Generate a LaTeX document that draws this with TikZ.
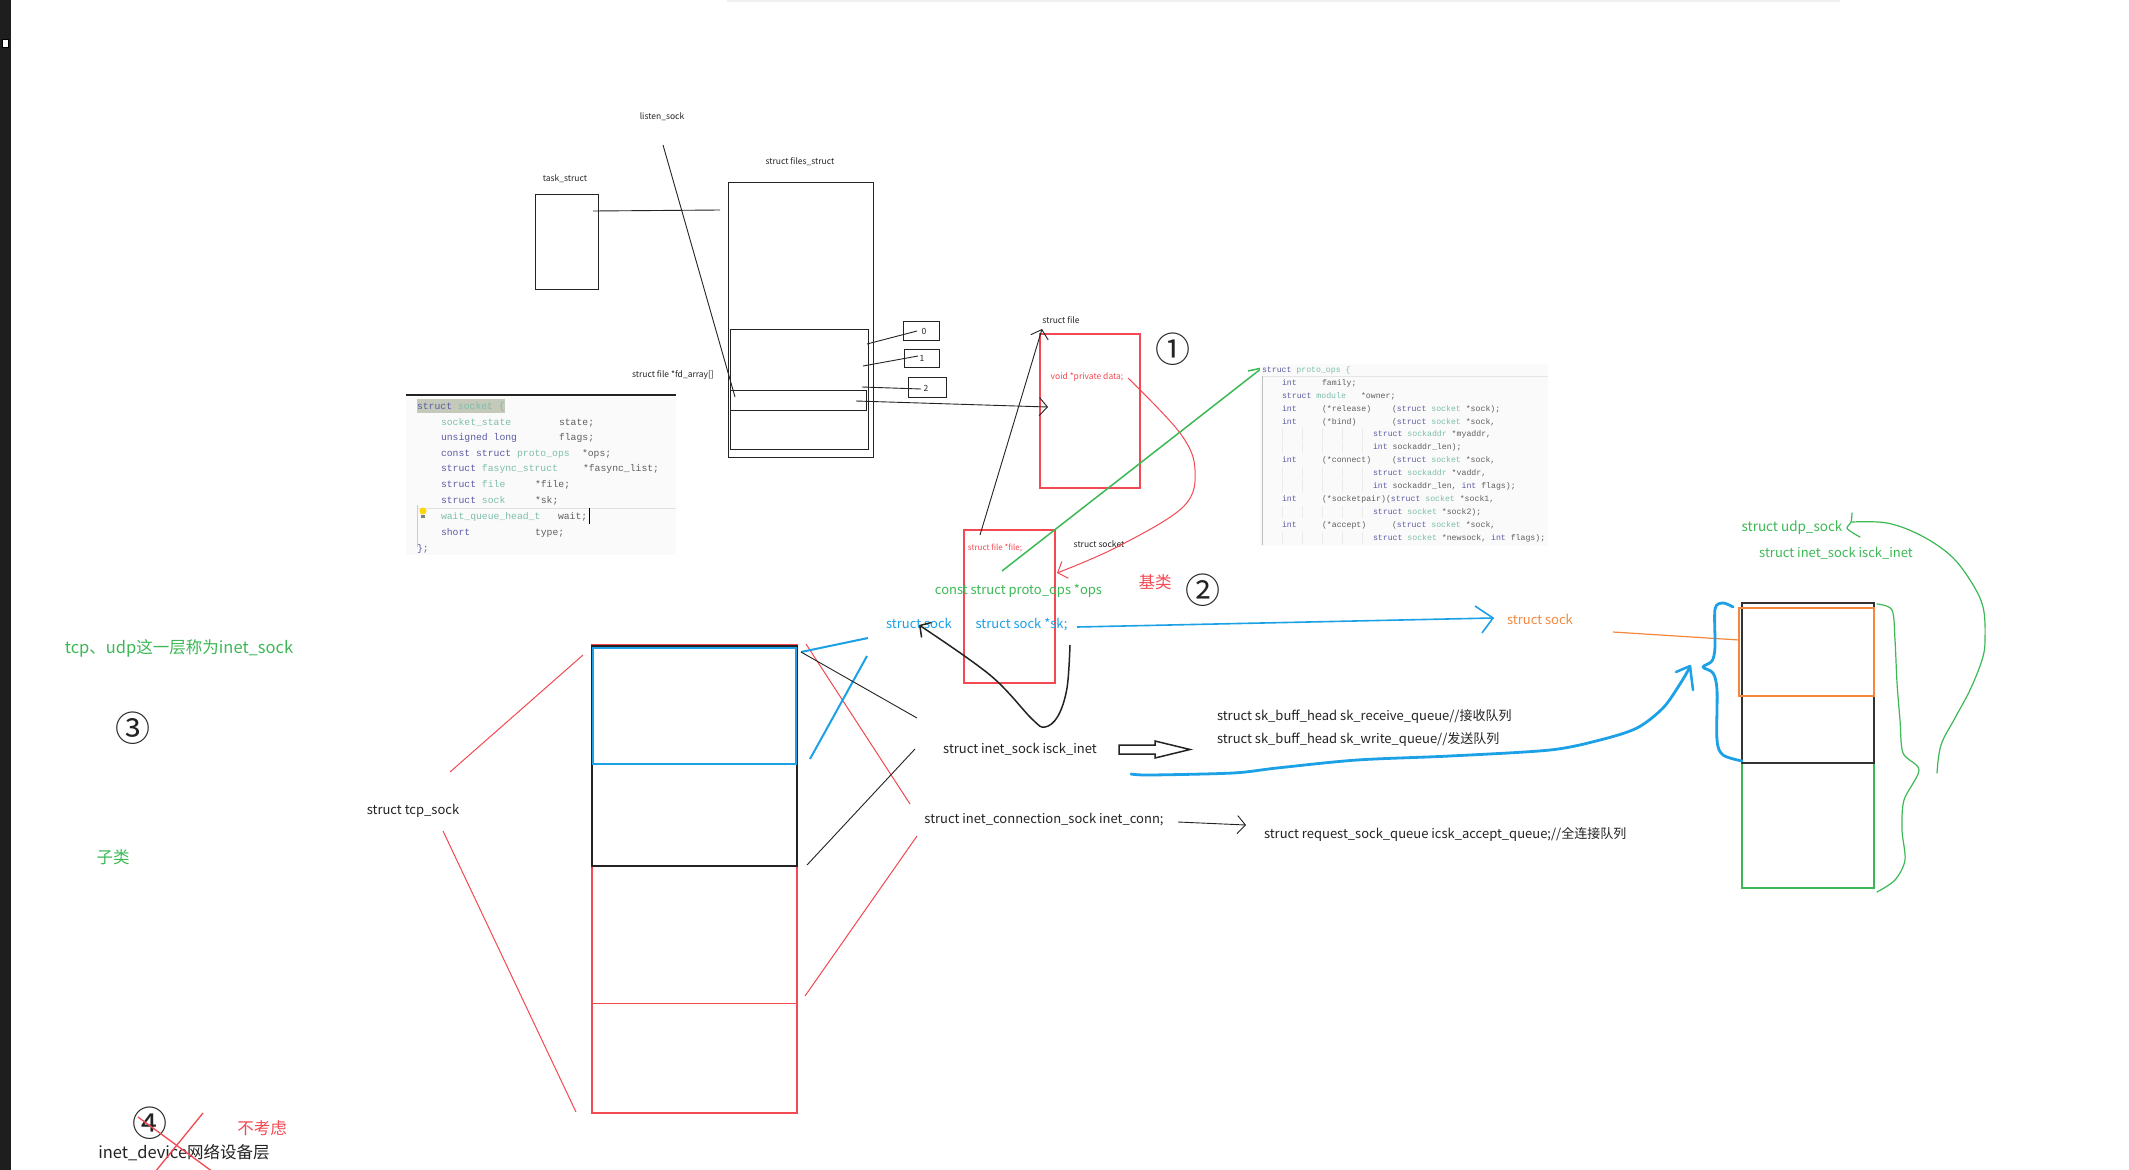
\documentclass[tikz,border=0pt]{standalone}
\usepackage{fontspec}
\newfontfamily\cjk{Noto Sans CJK SC}
\newfontfamily\mono{Liberation Mono}
\usetikzlibrary{arrows.meta}
\newcommand\fsz[1]{\fontsize{#1}{#1}\selectfont}
\definecolor{rd}{RGB}{244,72,82}
\definecolor{bl}{RGB}{28,160,230}
\definecolor{gr}{RGB}{60,185,85}
\definecolor{og}{RGB}{245,135,60}
\definecolor{ink}{RGB}{35,35,35}
\definecolor{kw}{RGB}{92,92,165}
\definecolor{ty}{RGB}{125,190,172}
\definecolor{tx}{RGB}{95,95,95}
\definecolor{strip}{RGB}{30,30,30}
\definecolor{codebg}{RGB}{250,250,250}
\definecolor{hl}{RGB}{196,201,186}
\begin{document}
\begin{tikzpicture}[x=1pt,y=-1pt,
  every node/.style={inner sep=0pt,outer sep=0pt},
  sm/.style={font=\cjk\fsz{8.5},text=ink},
  md/.style={font=\cjk\fsz{13},text=ink},
  lg/.style={font=\cjk\fsz{16.5}},
  circ/.style={font=\cjk\fsz{35},text=ink},
  box/.style={draw=ink,line width=0.9pt},
  rbox/.style={draw=rd,line width=1.1pt},
  thin/.style={draw=ink,line width=0.9pt},
  rl/.style={draw=rd,line width=1pt},
  bll/.style={draw=bl,line width=2pt},
  barb/.style={-{Straight Barb[length=8pt,width=18pt]}},
  code/.style={font=\mono\fsz{9.75},anchor=base west,text=tx},
  pcode/.style={font=\mono\fsz{8.2},anchor=base west,text=tx},
]
\useasboundingbox (0,0) rectangle (2129,1170);
\fill[white] (0,0) rectangle (2129,1170);
\fill[strip] (0,0) rectangle (11,1170);
\filldraw[fill=white,draw=black,line width=0.8pt] (2,39) rectangle (8,47);
\draw[black!6,line width=2pt] (727,1) -- (1840,1);

% ---------- top-left: task_struct / files_struct ----------
\node[sm] (listen) at (662,117) {listen\_sock};
\node[sm] (tasklbl) at (565,179) {task\_struct};
\node[box,minimum width=63pt,minimum height=95pt] (task) at (566.5,241.5) {};
\node[sm] (fileslbl) at (800,162) {struct files\_struct};
\node[box,minimum width=145pt,minimum height=275pt] (files) at (800.5,319.5) {};
\node[box,minimum width=138pt,minimum height=120pt] (fdarr) at (799,389) {};
\node[box,minimum width=136pt,minimum height=20pt] (fdrow) at (798,400) {};
\node[sm] (fdlbl) at (673,375) {struct file *fd\_array[]};
\node[box,minimum width=36pt,minimum height=19pt] (b0) at (921,330.5) {};
\node[box,minimum width=35pt,minimum height=18pt] (b1) at (921.5,358) {};
\node[box,minimum width=38pt,minimum height=20pt] (b2) at (927,387) {};
\node[sm] (n0) at (924,331) {0};
\node[sm] (n1) at (922,358) {1};
\node[sm] (n2) at (926,388) {2};
\draw[thin] (663,145) -- (735,397);
\draw[thin] (593,211) -- (720,210);
\draw[thin] (867,344) -- (917,331);
\draw[thin] (863,366) -- (918,356);
\draw[thin] (862,387) -- (921,389);

% ---------- struct file / struct socket ----------
\node[sm] (filelbl) at (1061,320) {struct file};
\node[rbox,minimum width=100pt,minimum height=154pt] (fileR) at (1090,411) {};
\node[sm,text=rd] (priv) at (1087,377) {void *private data;};
\node[circ] (c1) at (1173,349) {①};
\draw[thin,barb] (856,401) -- (1048,407);
\node[rbox,minimum width=91pt,minimum height=153pt] (sockR) at (1009.5,606.5) {};
\node[sm,text=rd,font=\cjk\fsz{8}] (ffile) at (995,548) {struct file *file;};
\node[sm] (socklbl) at (1099,544) {struct socket};
\draw[thin,barb] (980,535) -- (1042,329);
\draw[rl,barb] plot[smooth,tension=0.6] coordinates {(1128,378) (1180,433) (1195,470) (1183,507) (1117,547) (1057,573)};
\draw[gr,line width=1.5pt] (1002,571) -- (1262,368);
\draw[gr,line width=1.5pt] (1248,371) -- (1262,368) -- (1263,386);
\node[md,text=gr] (ops) at (1018.5,591) {const struct proto\_ops *ops};
\node[lg,text=rd] (jilei) at (1155,582) {基类};
\node[circ] (c2) at (1203,590) {②};
\node[md,text=bl] (sk) at (1021.5,625) {struct sock *sk;};
\node[md,text=bl] (sockb) at (919,623) {struct sock};
\draw[bll,line width=1.6pt] (1077,627) -- (1493,618);
\draw[bll,line width=1.6pt] (1475,606) -- (1493,618) -- (1482,633);
\node[md,text=og] (socko) at (1540,619) {struct sock};
\draw[ink,line width=1.5pt,barb] plot[smooth,tension=0.6] coordinates {(1070,645) (1067,688) (1058,716) (1045,727) (1032,719) (990,675) (919,625)};

% ---------- struct socket code ----------
\fill[codebg] (406,397) rectangle (676,555);
\draw[ink,line width=1.8pt] (406,395) -- (676,395);
\fill[hl] (417,399) rectangle (505,413);
\draw[black!12] (417,508) -- (676,508);
\draw[black!20] (417,505) -- (417,547);
\node[code] (s1) at (417,409) {{\color{kw}struct} {\color{ty}socket \{}};
\node[code] (s2a) at (441,425) {{\color{ty}socket\_state}};
\node[code] (s2b) at (559,425) {state;};
\node[code] (s3a) at (441,440) {{\color{kw}unsigned long}};
\node[code] (s3b) at (559,440) {flags;};
\node[code] (s4a) at (441,456) {{\color{kw}const struct} {\color{ty}proto\_ops}};
\node[code] (s4b) at (582,456) {*ops;};
\node[code] (s5a) at (441,471) {{\color{kw}struct} {\color{ty}fasync\_struct}};
\node[code] (s5b) at (583,471) {*fasync\_list;};
\node[code] (s6a) at (441,487) {{\color{kw}struct} {\color{ty}file}};
\node[code] (s6b) at (535,487) {*file;};
\node[code] (s7a) at (441,503) {{\color{kw}struct} {\color{ty}sock}};
\node[code] (s7b) at (535,503) {*sk;};
\node[code] (s8a) at (441,519) {{\color{ty}wait\_queue\_head\_t}};
\node[code] (s8b) at (558,519) {wait;};
\draw[black,line width=1pt] (589,508) -- (589,524);
\node[code] (s9a) at (441,535) {{\color{kw}short}};
\node[code] (s9b) at (535,535) {type;};
\node[code] (s10) at (417,551) {{\color{kw}\};}};
\fill[yellow!75!orange] (423,511) circle (3.5);
\fill[gray] (421.3,514.5) rectangle (424.7,517.5);

% ---------- proto_ops code ----------
\fill[codebg] (1260,364) rectangle (1548,546);
\draw[black!10] (1262,376) -- (1548,376);
\draw[black!25] (1262,376) -- (1262,545);
\foreach \yy in {434.3,447.3,473.3,486,512,537.7}
  \foreach \xx in {1282,1302,1322,1342,1362}
    \draw[black!8] (\xx,\yy-6) -- (\xx,\yy+6);
\node[pcode] (p1) at (1262,372.6) {{\color{kw}struct} {\color{ty}proto\_ops \{}};
\node[pcode] (p2a) at (1282,385.9) {{\color{kw}int}};
\node[pcode] (p2b) at (1322,385.9) {family;};
\node[pcode] (p3a) at (1282,398.6) {{\color{kw}struct} {\color{ty}module}};
\node[pcode] (p3b) at (1361,398.6) {*owner;};
\node[pcode] (p4a) at (1282,411.6) {{\color{kw}int}};
\node[pcode] (p4b) at (1322,411.6) {(*release)};
\node[pcode] (p4c) at (1392,411.6) {({\color{kw}struct} {\color{ty}socket} *sock);};
\node[pcode] (p5a) at (1282,424.3) {{\color{kw}int}};
\node[pcode] (p5b) at (1322,424.3) {(*bind)};
\node[pcode] (p5c) at (1392,424.3) {({\color{kw}struct} {\color{ty}socket} *sock,};
\node[pcode] (p6) at (1373,436.9) {{\color{kw}struct} {\color{ty}sockaddr} *myaddr,};
\node[pcode] (p7) at (1373,449.9) {{\color{kw}int} sockaddr\_len);};
\node[pcode] (p8a) at (1282,462.6) {{\color{kw}int}};
\node[pcode] (p8b) at (1322,462.6) {(*connect)};
\node[pcode] (p8c) at (1392,462.6) {({\color{kw}struct} {\color{ty}socket} *sock,};
\node[pcode] (p9) at (1373,475.9) {{\color{kw}struct} {\color{ty}sockaddr} *vaddr,};
\node[pcode] (p10) at (1373,488.6) {{\color{kw}int} sockaddr\_len, {\color{kw}int} flags);};
\node[pcode] (p11a) at (1282,501.6) {{\color{kw}int}};
\node[pcode] (p11b) at (1322,501.6) {(*socketpair)};
\node[pcode] (p11c) at (1386,501.6) {({\color{kw}struct} {\color{ty}socket} *sock1,};
\node[pcode] (p12) at (1373,514.6) {{\color{kw}struct} {\color{ty}socket} *sock2);};
\node[pcode] (p13a) at (1282,527.3) {{\color{kw}int}};
\node[pcode] (p13b) at (1322,527.3) {(*accept)};
\node[pcode] (p13c) at (1392,527.3) {({\color{kw}struct} {\color{ty}socket} *sock,};
\node[pcode] (p14) at (1373,540.3) {{\color{kw}struct} {\color{ty}socket} *newsock, {\color{kw}int} flags);};

% ---------- tcp_sock structure ----------
\node[rbox,minimum width=205pt,minimum height=468pt] (tcpR) at (694.5,879) {};
\draw[rl] (592,1003) -- (797,1003);
\node[draw=ink,line width=1.3pt,minimum width=205pt,minimum height=220pt] (tcpK) at (694.5,756) {};
\node[draw=bl,line width=1.8pt,minimum width=203pt,minimum height=116pt] (tcpB) at (694.5,706) {};
\node[md] (tcplbl) at (413,811) {struct tcp\_sock};
\draw[rl] (583,655) -- (450,772);
\draw[rl] (443,831) -- (576,1112);
\draw[rl] (806,644) -- (910,804);
\draw[rl] (917,836) -- (805,996);
\draw[bll] (801,652) -- (868,638);
\draw[bll] (867,656) -- (810,759);
\draw[thin] (801,652) -- (917,718);
\draw[thin] (915,749) -- (807,865);

\node[md] (inetlbl) at (1020,749) {struct inet\_sock isck\_inet};
\draw[ink,line width=1.5pt] (1119,745) -- (1155,745) -- (1155,741) -- (1190,749.5) -- (1155,758) -- (1155,754) -- (1119,754) -- cycle;
\node[md,anchor=west] (rcv) at (1217,717) {struct sk\_buff\_head sk\_receive\_queue//接收队列};
\node[md,anchor=west] (wrt) at (1217,739) {struct sk\_buff\_head sk\_write\_queue//发送队列};
\node[md] (connlbl) at (1044,820) {struct inet\_connection\_sock inet\_conn;};
\draw[thin,barb] (1178,822) -- (1246,825);
\node[md,anchor=west] (req) at (1264,834) {struct request\_sock\_queue icsk\_accept\_queue;//全连接队列};
\draw[bl,line width=2.8pt,line cap=round,line join=round] plot[smooth,tension=0.5] coordinates {(1131,774) (1150,775) (1233,773) (1277,768) (1357,760) (1450,756) (1550,750) (1600,740) (1637,728) (1663,708) (1680,684) (1690,667)};
\draw[bl,line width=2.5pt,line cap=round,line join=round] (1676,672) -- (1690,666) -- (1693,690);

% ---------- right structure ----------
\node[draw=gr,line width=1.5pt,minimum width=132pt,minimum height=285pt] (udpG) at (1808,745.5) {};
\node[draw=black!80,line width=2.5pt,minimum width=132pt,minimum height=160pt] (udpK) at (1808,683) {};
\node[draw=og,line width=1.6pt,minimum width=135pt,minimum height=88pt] (udpO) at (1806.5,652) {};
\draw[og,line width=1.2pt] (1613,632) -- (1739,640);
\draw[bl,line width=2.8pt,line cap=round,line join=round] plot[smooth,tension=0.5] coordinates {(1733,607) (1723,603) (1715,609) (1715,647) (1712,661) (1703,667) (1713,673) (1717,690) (1717,740) (1723,755) (1742,761)};
\node[md,text=gr,font=\cjk\fsz{13.5}] (udplbl) at (1792,528) {struct udp\_sock};
\node[md,text=gr] (isck) at (1836,553) {struct inet\_sock isck\_inet};
\draw[gr,line width=1.2pt,line cap=round] plot[smooth,tension=0.5] coordinates {(1852,513) (1851,522) (1847,528) (1853,533) (1860,537)};
\draw[gr,line width=1.2pt,line cap=round] plot[smooth,tension=0.6] coordinates {(1852,522) (1887,523) (1920,535) (1950,555) (1970,580) (1983,607) (1985,640) (1982,660) (1970,690) (1955,718) (1941,745) (1937,773)};
\draw[gr,line width=1.2pt,line cap=round] plot[smooth,tension=0.5] coordinates {(1877,604) (1892,610) (1895,640) (1897,683) (1900,720) (1903,753) (1919,770) (1904,800) (1902,830) (1905,860) (1895,880) (1877,892)};

% ---------- left texts ----------
\node[lg,text=gr] (tcpudp) at (179,648) {tcp、udp这一层称为inet\_sock};
\node[circ] (c3) at (133,728) {③};
\node[lg,text=gr] (zilei) at (113,857) {子类};
\node[circ] (c4) at (150,1123) {④};
\node[lg,text=ink] (device) at (184,1153) {inet\_device网络设备层};
\node[lg,text=rd] (buks) at (262,1128) {不考虑};
\draw[rl,line width=1.3pt] (138,1117) -- (213,1172);
\draw[rl,line width=1.3pt] (203,1113) -- (155,1172);
\end{tikzpicture}
\end{document}
